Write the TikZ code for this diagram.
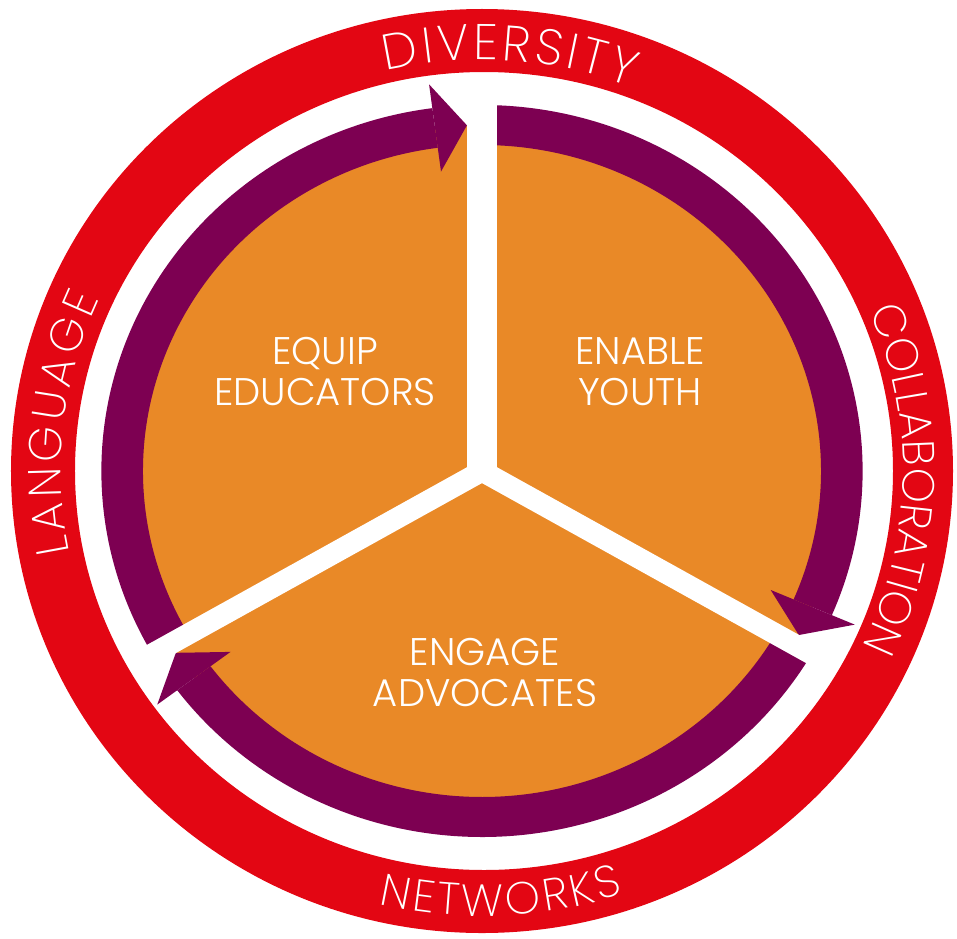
\documentclass[tikz,border=0pt]{standalone}
\usepackage{fontspec}
\newfontfamily\lightfont{Poppins}[UprightFont={* Light}]
\newfontfamily\ringfont{Poppins}[UprightFont={* ExtraLight}]
\usetikzlibrary{decorations.text}
\definecolor{ringred}{RGB}{227,6,19}
\definecolor{arrowpurple}{RGB}{125,0,82}
\definecolor{discorange}{RGB}{233,137,39}
\begin{document}
\begin{tikzpicture}[x=1pt,y=1pt,
  innerlabel/.style={text=white, align=center, inner sep=0pt,
    font=\lightfont\fontsize{38.5}{41}\selectfont},
  ringtext/.style 2 args={decorate, decoration={text along path,
    text align={fit to path}, text color=white,
    text={|\ringfont\fontsize{#1}{#1}\selectfont|#2}}},
  arrowfill/.style={fill=arrowpurple},
  gapbar/.style={fill=white}]
\useasboundingbox (-482,-467) rectangle (475,471);
% red ring
\fill[ringred, even odd rule] (0,0) ellipse [x radius=471, y radius=462]
  (2,0) ellipse [x radius=409, y radius=399];
\begin{scope}[xscale=1.04]
  \fill[discorange] (0,0) circle[radius=346];
  % arrow 1 (left, towards top)
  \fill[arrowfill] (210:366) arc[start angle=210, end angle=97.5, radius=366]
    -- (97.5:326) arc[start angle=97.5, end angle=210, radius=326] -- cycle;
  \fill[arrowfill] (97.5:302) -- (92.4:346) -- (97.5:390) -- cycle;
  % arrow 2 (right, towards lower right)
  \fill[arrowfill] (90:366) arc[start angle=90, end angle=-23.2, radius=366]
    -- (-23.2:326) arc[start angle=-23.2, end angle=90, radius=326] -- cycle;
  \fill[arrowfill] (-23.2:302) -- (-28.3:346) -- (-23.2:390) -- cycle;
  % arrow 3 (bottom, towards lower left)
  \fill[arrowfill] (-30:366) arc[start angle=-30, end angle=-143.2, radius=366]
    -- (-143.2:326) arc[start angle=-143.2, end angle=-30, radius=326] -- cycle;
  \fill[arrowfill] (-143.2:302) -- (-148.3:346) -- (-143.2:390) -- cycle;
  % white gaps
  \fill[gapbar] (-14.4,0) rectangle (14.4,385);
  \fill[gapbar, rotate=210] (0,-10.5) rectangle (385,10.5);
  \fill[gapbar, rotate=330] (0,-10.5) rectangle (385,10.5);
\end{scope}
% inner labels
\node[innerlabel] (equip) at (-157,99) {EQUIP\\EDUCATORS};
\node[innerlabel] (enable) at (158,99) {ENABLE\\YOUTH};
\node[innerlabel] (engage) at (3,-202) {ENGAGE\\ADVOCATES};
% ring labels
\path[ringtext={50}{DIVERSITY}] (103.2:421 and 411)
  arc[start angle=103.2, end angle=69.2, x radius=421, y radius=411];
\path[ringtext={45}{COLLABORATION}] (23:421 and 411)
  arc[start angle=23, end angle=-25.2, x radius=421, y radius=411];
\path[ringtext={46}{LANGUAGE}] (191.5:421 and 411)
  arc[start angle=191.5, end angle=155.3, x radius=421, y radius=411];
\path[ringtext={45}{NETWORKS}] (256.8:454 and 445)
  arc[start angle=256.8, end angle=288.2, x radius=454, y radius=445];
\end{tikzpicture}
\end{document}
